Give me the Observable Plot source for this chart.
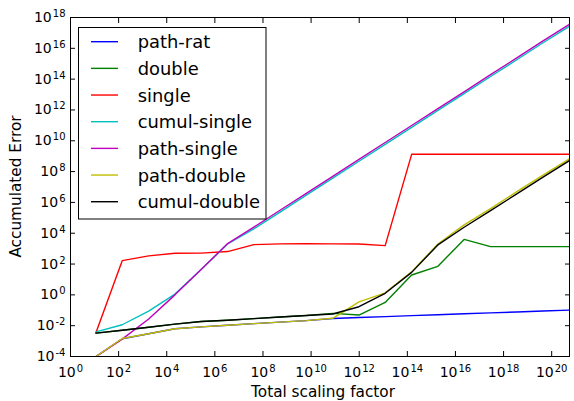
<!DOCTYPE html>
<html><head><meta charset="utf-8">
<script src="https://cdn.jsdelivr.net/npm/d3@7"></script>
<script src="https://cdn.jsdelivr.net/npm/@observablehq/plot@0.6"></script>
<style>html,body{margin:0;padding:0;background:#fff} svg{display:block}</style>
</head><body><div id="chart"></div>
<script>
// Total scaling factor (x)
const scaling = [11.5, 141, 1.78e3, 2.19e4, 2.69e5, 3.39e6, 4.17e7, 5.13e8, 6.31e9, 7.94e10, 9.77e11, 1.2e13, 1.51e14, 1.86e15, 2.29e16, 2.88e17, 3.55e18, 4.37e19, 5.5e20];

// Accumulated error per series
const pathRat     = [1e-4, 1.41e-3, 3.02e-3, 6.31e-3, 8.32e-3, 1.07e-2, 1.35e-2, 1.7e-2, 2.14e-2, 2.9e-2, 3.39e-2, 3.89e-2, 4.47e-2, 5.13e-2, 5.89e-2, 6.76e-2, 7.76e-2, 8.91e-2, 0.102];
const double      = [3.31e-3, 5.01e-3, 7.94e-3, 1.26e-2, 1.86e-2, 2.24e-2, 2.88e-2, 3.63e-2, 4.57e-2, 6.31e-2, 4.9e-2, 0.324, 19.5, 70.8, 3980, 1350, 1350, 1350, 1350];
const single      = [3.55e-3, 166, 339, 501, 513, 646, 1820, 2040, 2090, 2040, 2000, 1580, 1.32e9, 1.32e9, 1.32e9, 1.32e9, 1.32e9, 1.32e9, 1.32e9];
const cumulSingle = [3.98e-3, 1.15e-2, 8.91e-2, 1.12, 43.7, 2000, 1.91e4, 2.34e5, 2.95e6, 3.72e7, 4.68e8, 5.89e9, 7.41e10, 9.33e11, 1.15e13, 1.48e14, 1.82e15, 2.29e16, 2.69e17];
const pathSingle  = [1e-4, 1.35e-3, 2.69e-2, 1.0, 43.7, 2140, 2.51e4, 3.09e5, 3.89e6, 4.9e7, 6.17e8, 7.76e9, 9.77e10, 1.23e12, 1.51e13, 1.95e14, 2.4e15, 3.02e16, 3.63e17];
const pathDouble  = [1e-4, 1.48e-3, 3.02e-3, 6.31e-3, 8.32e-3, 1.07e-2, 1.35e-2, 1.7e-2, 2.14e-2, 3.02e-2, 0.347, 1.35, 31.6, 2000, 3.47e4, 3.98e5, 5.01e6, 5.89e7, 6.76e8];
const cumulDouble = [3.31e-3, 5.01e-3, 7.94e-3, 1.26e-2, 1.86e-2, 2.24e-2, 2.88e-2, 3.63e-2, 4.57e-2, 5.75e-2, 0.17, 1.26, 28.8, 1740, 2.45e4, 2.95e5, 3.55e6, 4.37e7, 5.25e8];

const seriesNames  = ["path-rat", "double", "single", "cumul-single", "path-single", "path-double", "cumul-double"];
const seriesValues = [pathRat, double, single, cumulSingle, pathSingle, pathDouble, cumulDouble];
const seriesColors = ["#0000ff", "#008000", "#ff0000", "#00bfbf", "#bf00bf", "#bfbf00", "#000000"];

const xTicks = [1e0, 1e2, 1e4, 1e6, 1e8, 1e10, 1e12, 1e14, 1e16, 1e18, 1e20];
const yTicks = [1e-4, 1e-2, 1e0, 1e2, 1e4, 1e6, 1e8, 1e10, 1e12, 1e14, 1e16, 1e18];
const xLabel = "Total scaling factor";
const yLabel = "Accumulated Error";

const rows = [];
seriesNames.forEach((name, s) => {
  seriesValues[s].forEach((v, i) => rows.push({series: name, x: scaling[i], y: v}));
});

const fmt = d => "10^" + Math.round(Math.log10(d));
const blank = () => "";

const svg = Plot.plot({
  width: 574, height: 401,
  marginLeft: 70, marginRight: 5, marginTop: 17, marginBottom: 45,
  style: {fontFamily: "'DejaVu Sans', sans-serif", fontSize: "14px", color: "black", background: "white"},
  x: {type: "log", domain: [1, 5.5e20]},
  y: {type: "log", domain: [1e-4, 1e18]},
  color: {domain: seriesNames, range: seriesColors},
  marks: [
    Plot.line(rows, {x: "x", y: "y", z: "series", stroke: "series", strokeWidth: 1.4, clip: true}),
    Plot.frame({stroke: "black", strokeWidth: 1}),
    Plot.axisX({anchor: "bottom", ticks: xTicks, tickSize: 5, dy: -5, tickFormat: blank, label: null}),
    Plot.axisX({anchor: "bottom", ticks: xTicks, tickSize: 0, tickPadding: 11, tickFormat: fmt, label: null, fontSize: 14}),
    Plot.axisX({anchor: "top", ticks: xTicks, tickSize: 5, dy: 5, tickFormat: blank, label: null}),
    Plot.axisY({anchor: "left", ticks: yTicks, tickSize: 5, dx: 5, tickFormat: blank, label: null}),
    Plot.axisY({anchor: "left", ticks: yTicks, tickSize: 0, tickPadding: 5, tickFormat: fmt, label: null, fontSize: 14}),
    Plot.axisY({anchor: "right", ticks: yTicks, tickSize: 5, dx: -5, tickFormat: blank, label: null})
  ]
});

// superscript exponents in tick labels
d3.select(svg).selectAll("text").each(function() {
  const t = this.textContent;
  if (t && t.startsWith("10^")) {
    const e = t.slice(3);
    const sel = d3.select(this);
    sel.text("10");
    sel.append("tspan").attr("dy", "-0.5em").attr("dx", "1").attr("font-size", "10px").text(e);
  }
});

const root = d3.select(svg);
root.append("text").attr("x", 323).attr("y", 397).attr("text-anchor", "middle")
  .attr("font-size", 15.3).attr("fill", "black").text(xLabel);
root.append("text").attr("transform", "translate(21,186.5) rotate(-90)").attr("text-anchor", "middle")
  .attr("font-size", 15.3).attr("fill", "black").text(yLabel);

// legend
const lg = root.append("g").attr("text-anchor", "start");
lg.append("rect").attr("x", 78.5).attr("y", 27.5).attr("width", 187.5).attr("height", 191.5)
  .attr("fill", "white").attr("stroke", "black").attr("stroke-width", 1);
seriesNames.forEach((name, i) => {
  const cy = 41.7 + 26.67 * i;
  lg.append("line").attr("x1", 91).attr("x2", 118).attr("y1", cy).attr("y2", cy)
    .attr("stroke", seriesColors[i]).attr("stroke-width", 1.4);
  lg.append("text").attr("x", 137.7).attr("y", cy + 6.5).attr("text-anchor", "start")
    .attr("font-size", 17.9).attr("fill", "black").text(name);
});

document.getElementById("chart").appendChild(svg);
</script>
</body></html>
